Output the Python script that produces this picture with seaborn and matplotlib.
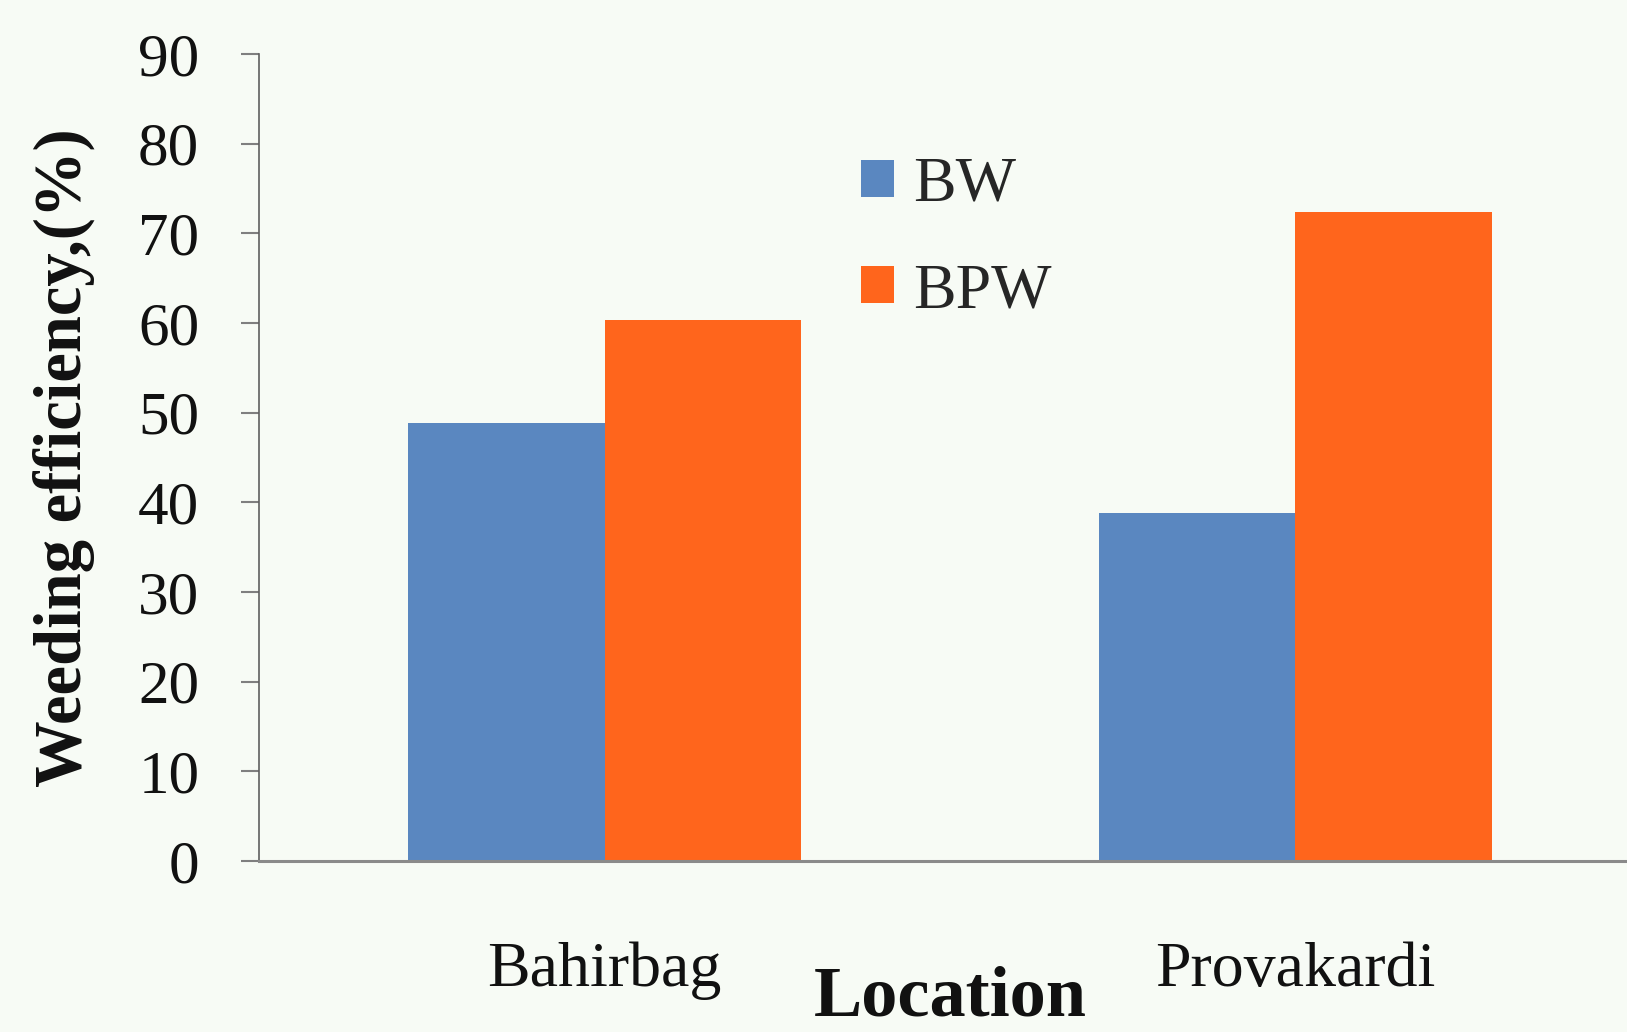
import matplotlib
matplotlib.use("Agg")
import matplotlib.pyplot as plt
from matplotlib.patches import Patch
import pandas as pd
import seaborn as sns

# Weeding efficiency (%) by location and weeder type
locations = ["Bahirbag", "Provakardi"]
series = ["BW", "BPW"]
bw_values = [48.9, 38.8]
bpw_values = [60.3, 72.4]
y_ticks = [0, 10, 20, 30, 40, 50, 60, 70, 80, 90]

colors = ["#5a87c0", "#ff651c"]
bg = "#f7fbf5"

df = pd.DataFrame({
    "Location": locations * 2,
    "Series": [series[0]] * len(locations) + [series[1]] * len(locations),
    "Efficiency": bw_values + bpw_values,
})

sns.set_theme(style="white")
plt.rcParams["font.family"] = ["Liberation Serif", "DejaVu Serif"]

fig = plt.figure(figsize=(16.27, 10.32), dpi=100, facecolor=bg)
ax = fig.add_axes([0.1592, 0.1657, 0.8494, 0.782])
ax.set_facecolor(bg)

sns.barplot(data=df, x="Location", y="Efficiency", hue="Series",
            hue_order=series, order=locations, palette=colors,
            width=0.57, gap=0, linewidth=0, saturation=1,
            legend=False, ax=ax)

ax.set_xlim(-0.5, 1.5)
ax.set_ylim(0, 90)
ax.set_yticks(y_ticks)
ax.set_yticklabels([str(t) for t in y_ticks])

for side in ("top", "right"):
    ax.spines[side].set_visible(False)
ax.spines["left"].set_color("#5f5f5f")
ax.spines["left"].set_linewidth(1.2)
ax.spines["bottom"].set_color("#8a8a8a")
ax.spines["bottom"].set_linewidth(2.2)

ax.tick_params(axis="y", direction="out", length=13, width=1.5,
               color="#7f7f7f", pad=30, labelsize=44, labelcolor="#111111",
               left=True)
ax.tick_params(axis="x", length=0, pad=58, labelsize=46, labelcolor="#111111")

ax.set_ylabel("Weeding efficiency,(%)", fontsize=48, fontweight="bold",
              color="#111111")
ax.yaxis.set_label_coords(-0.141, 0.5)
ax.yaxis.label.set_va("center")

ax.set_xlabel("Location", fontsize=52, fontweight="bold", color="#111111")
ax.xaxis.set_label_coords(0.5, -0.191)
ax.xaxis.label.set_va("baseline")

handles = [Patch(facecolor=c, edgecolor="none", label=s)
           for c, s in zip(colors, series)]
ax.legend(handles=handles, loc="upper left",
          bbox_to_anchor=(0.529, 0.848), bbox_transform=fig.transFigure,
          frameon=False, fontsize=46, handlelength=0.52, handleheight=0.52,
          handletextpad=0.3, labelspacing=0.76, borderpad=0, borderaxespad=0)

fig.savefig("out.png", dpi=100, facecolor=bg)
